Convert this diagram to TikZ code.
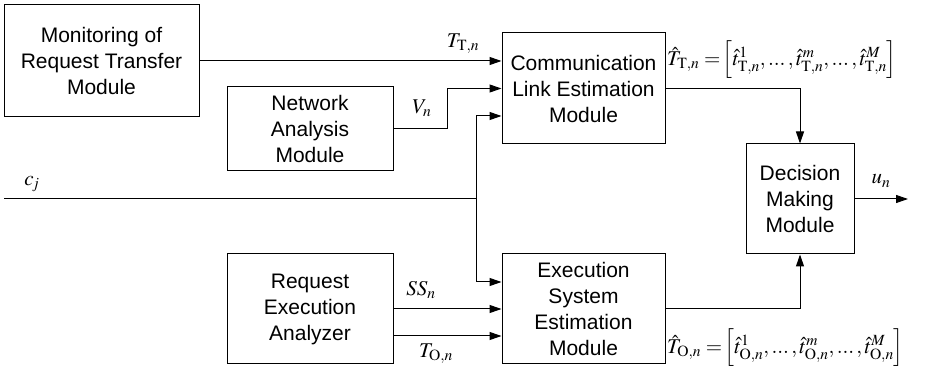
\documentclass[tikz,border=0pt]{standalone}
\usepackage{mathptmx}
\usepackage[no-math]{fontspec}
\setmainfont{Liberation Sans}
\usetikzlibrary{arrows.meta}

% compact ellipsis between list entries
\newcommand{\tdots}{\mathinner{\ldotp\!\ldotp\!\ldotp}}

\tikzset{
  block/.style={draw=black, line width=1pt, inner sep=0pt, align=center,
    font=\fontsize{21}{26}\selectfont},
  arr/.style={line width=1pt, -{Triangle[length=12pt,width=8pt]}},
  wire/.style={line width=1pt},
  sig/.style={inner sep=0pt, font=\fontsize{21}{25}\selectfont}
}

\begin{document}
\begin{tikzpicture}[x=1pt, y=-1pt]
  \useasboundingbox (0,0) rectangle (935,371);

  % modules
  \node[block, minimum width=195pt, minimum height=112pt] (mon) at (101.5,61)
    {Monitoring of\\Request Transfer\\Module};
  \node[block, minimum width=166pt, minimum height=84pt] (net) at (310,129)
    {Network\\Analysis\\Module};
  \node[block, minimum width=163pt, minimum height=111pt] (cle) at (583.5,88.5)
    {Communication\\Link Estimation\\Module};
  \node[block, minimum width=108pt, minimum height=110pt] (dm) at (800,199)
    {Decision\\Making\\Module};
  \node[block, minimum width=166pt, minimum height=110pt] (rea) at (310,309)
    {Request\\Execution\\Analyzer};
  \node[block, minimum width=163pt, minimum height=110pt] (ese) at (583.5,309)
    {Execution\\System\\Estimation\\Module};

  % free ends and junction
  \coordinate (cjin) at (4,199);
  \coordinate (cj) at (476,199);
  \coordinate (uout) at (908,199);

  % inputs of the communication link estimation
  \draw[arr] (mon.east) -- (mon.east -| cle.west);
  \draw[arr] (net.east) -- ++(54,0) |- (cle.west);
  \draw[wire] (cjin) -- (cj);
  \draw[arr] (cj) |- ([yshift=-27.5pt]cle.west);

  % inputs of the execution system estimation
  \draw[arr] (cj) |- ([yshift=27pt]ese.west);
  \draw[arr] (rea.east) -- (rea.east -| ese.west);
  \draw[arr] ([yshift=-27pt]rea.east) -- ([yshift=-27pt]rea.east -| ese.west);

  % estimates to the decision module
  \draw[arr] (cle.east) -| (dm.north);
  \draw[arr] (ese.east) -| (dm.south);
  \draw[arr] (dm.east) -- (uout);

  % signal labels
  \node[sig] at (463,44) {$T_{\mathrm{T},n}$};
  \node[sig] at (422,108) {$V_n$};
  \node[sig] at (32,184) {$c_{\!j}$};
  \node[sig] at (421,290) {$SS_n$};
  \node[sig] at (436,354) {$T_{\mathrm{O},n}$};
  \node[sig] at (881,181) {$u_n$};
  \node[sig, anchor=west] at (667,60)
    {$\hat{T}_{\mathrm{T},n}=\!\Big[\hat{t}^{1}_{\mathrm{T},n},\tdots,\hat{t}^{m}_{\mathrm{T},n},\tdots,\hat{t}^{M}_{\mathrm{T},n}\Big]$};
  \node[sig, anchor=west] at (667,348)
    {$\hat{T}_{\mathrm{O},n}=\!\Big[\hat{t}^{1}_{\mathrm{O},n},\tdots,\hat{t}^{m}_{\mathrm{O},n},\tdots,\hat{t}^{M}_{\mathrm{O},n}\Big]$};
\end{tikzpicture}
\end{document}
